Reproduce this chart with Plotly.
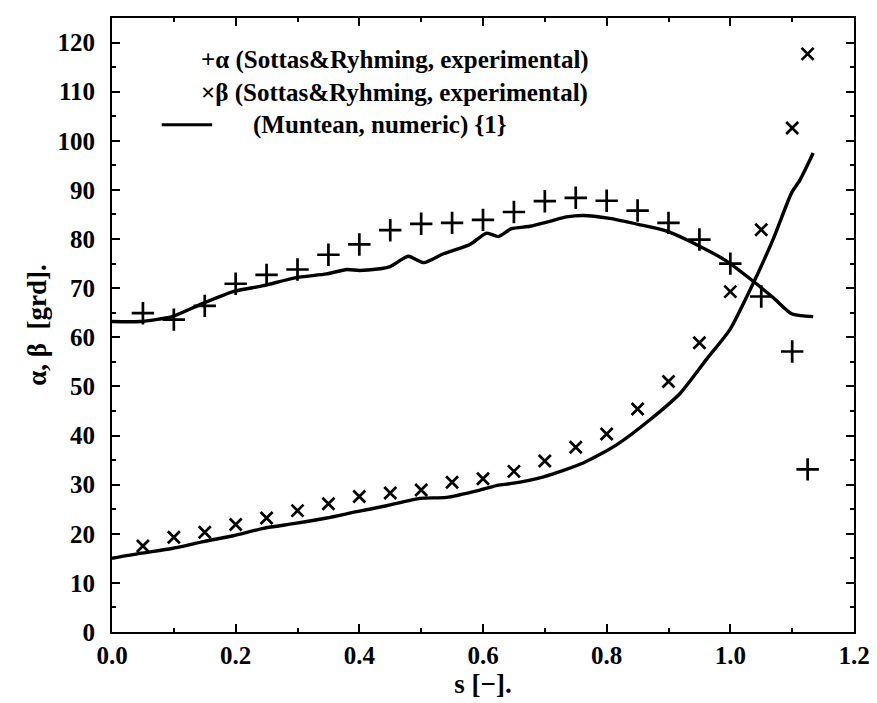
import plotly.graph_objects as go

# experimental data (Sottas & Ryhming)
s_exp = [0.05, 0.10, 0.15, 0.20, 0.25, 0.30, 0.35, 0.40, 0.45, 0.50, 0.55, 0.60,
         0.65, 0.70, 0.75, 0.80, 0.85, 0.90, 0.95, 1.00, 1.05, 1.10, 1.125]
alpha_exp = [64.9, 63.6, 66.4, 70.9, 72.7, 73.8, 76.8, 78.9, 81.8, 83.1, 83.3, 83.9,
             85.5, 87.7, 88.4, 87.8, 85.8, 83.3, 79.9, 75.0, 68.3, 57.1, 33.1]
beta_exp = [17.5, 19.3, 20.3, 21.9, 23.2, 24.7, 26.1, 27.6, 28.3, 28.9, 30.5, 31.2,
            32.7, 34.8, 37.6, 40.3, 45.4, 51.0, 58.9, 69.3, 81.9, 102.6, 117.7]

# numeric data (Muntean)
s_alpha_num = [0.0, 0.045, 0.097, 0.145, 0.196, 0.245, 0.296, 0.347, 0.38, 0.40, 0.43, 0.45,
               0.479, 0.504, 0.536, 0.579, 0.606, 0.625, 0.646, 0.676, 0.708, 0.735, 0.762,
               0.805, 0.854, 0.897, 0.951, 0.994, 1.037, 1.07, 1.099, 1.134]
alpha_num = [63.2, 63.2, 64.2, 66.8, 69.3, 70.5, 72.1, 72.9, 73.8, 73.6, 73.9, 74.4,
             76.5, 75.2, 77.0, 78.9, 81.2, 80.5, 82.1, 82.6, 83.6, 84.5, 84.8,
             84.2, 82.9, 81.6, 78.5, 75.5, 71.4, 68.0, 64.8, 64.2]
s_beta_num = [0.0, 0.045, 0.097, 0.148, 0.196, 0.245, 0.296, 0.347, 0.396, 0.444, 0.498, 0.541,
              0.595, 0.625, 0.644, 0.698, 0.762, 0.816, 0.870, 0.919, 0.962, 0.999, 1.037,
              1.07, 1.099, 1.113, 1.134]
beta_num = [15.0, 16.0, 17.0, 18.4, 19.6, 21.1, 22.1, 23.2, 24.5, 25.7, 27.2, 27.4,
            28.9, 29.9, 30.2, 31.6, 34.4, 38.1, 43.2, 48.6, 55.6, 61.5, 71.0,
            80.2, 89.4, 92.1, 97.5]

legend_lines = ["+α (Sottas&Ryhming, experimental)",
                "×β (Sottas&Ryhming, experimental)",
                "(Muntean, numeric) {1}"]

FONT = "Liberation Serif"

fig = go.Figure()
fig.add_trace(go.Scatter(x=s_alpha_num, y=alpha_num, mode="lines",
                         line=dict(color="black", width=3.4, shape="spline", smoothing=0.6),
                         showlegend=False))
fig.add_trace(go.Scatter(x=s_beta_num, y=beta_num, mode="lines",
                         line=dict(color="black", width=3.4, shape="spline", smoothing=0.6),
                         showlegend=False))
fig.add_trace(go.Scatter(x=s_exp, y=alpha_exp, mode="markers",
                         marker=dict(symbol="cross-thin", size=16,
                                     line=dict(color="black", width=2.7)),
                         showlegend=False))
fig.add_trace(go.Scatter(x=s_exp, y=beta_exp, mode="markers",
                         marker=dict(symbol="x-thin", size=12,
                                     line=dict(color="black", width=2.7)),
                         showlegend=False))

# legend as annotations
leg_x = [0.117, 0.117, 0.187]
leg_y = [0.932, 0.878, 0.826]
for txt, xp, yp in zip(legend_lines, leg_x, leg_y):
    fig.add_annotation(x=xp, y=yp, xref="paper", yref="paper",
                       text="<b>" + txt + "</b>", showarrow=False, xanchor="left",
                       yanchor="middle", font=dict(family=FONT, size=25, color="black"))
fig.add_shape(type="line", xref="paper", yref="paper", x0=0.067, x1=0.135,
              y0=0.826, y1=0.826, line=dict(color="black", width=3))

axis_common = dict(showline=True, linecolor="black", linewidth=2, mirror="ticks",
                   ticks="inside", tickcolor="black", tickwidth=2, ticklen=8,
                   showgrid=False, zeroline=False, automargin=False,
                   tickfont=dict(family=FONT, size=25, color="black"))

fig.update_xaxes(range=[0, 1.2], tickvals=[0, 0.2, 0.4, 0.6, 0.8, 1.0, 1.2],
                 ticktext=["<b>0.0</b>", "<b>0.2</b>", "<b>0.4</b>", "<b>0.6</b>",
                           "<b>0.8</b>", "<b>1.0</b>", "<b>1.2</b>"],
                 minor=dict(dtick=0.1, ticks="inside", ticklen=4, tickcolor="black", tickwidth=1.5),
                 title=dict(text="<b>s [−].</b>", font=dict(family=FONT, size=27, color="black"),
                            standoff=0),
                 **axis_common)
yvals = list(range(0, 121, 10))
fig.update_yaxes(range=[0, 125], tickvals=yvals,
                 ticktext=["<b>%d</b>" % v for v in yvals],
                 ticklabelstandoff=10,
                 minor=dict(dtick=5, ticks="inside", ticklen=4, tickcolor="black", tickwidth=1.5),
                 title=dict(text="<b>α, β  [grd].</b>", font=dict(family=FONT, size=27, color="black"),
                            standoff=3),
                 **axis_common)

# the page body adds an 8px margin, so the figure is drawn 8px smaller
fig.update_layout(width=869, height=695, plot_bgcolor="white", paper_bgcolor="white",
                  margin=dict(l=104, r=23, t=10, b=71), showlegend=False)

fig.write_html("out.html")
